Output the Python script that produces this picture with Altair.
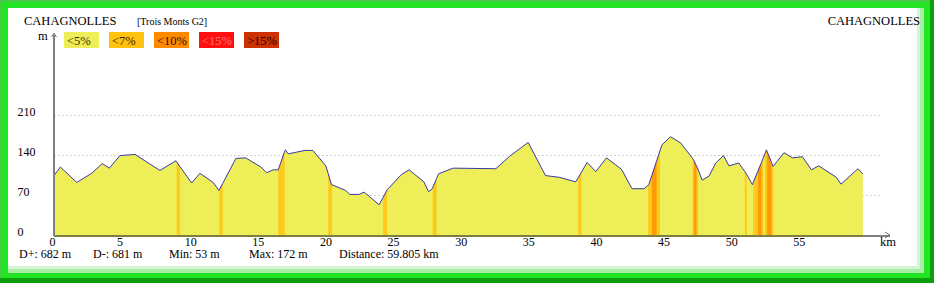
import altair as alt
import pandas as pd

# ---------------- data ----------------
km = [0, 0.47, 1.68, 2.79, 3.57, 4.09, 4.88, 5.99, 7.83, 9.02, 9.07, 9.31, 10.18, 10.79,
      11.77, 12.2, 12.22, 12.47, 13.45, 14.17, 15.3, 15.72, 16.21, 16.58, 17.05, 17.1,
      17.32, 18.55, 19.14, 20.1, 20.28, 20.52, 20.55, 21.56, 21.88, 22.54, 22.93, 24.04,
      24.34, 24.63, 25.7, 26.26, 27.35, 27.69, 27.94, 28.0, 28.29, 28.43, 29.51, 32.67,
      33.7, 35.06, 36.34, 37.35, 38.58, 38.76, 39.0, 39.42, 40.06, 40.85, 41.96, 42.74,
      43.63, 43.93, 43.98, 44.2, 44.55, 44.8, 44.96, 45.58, 46.34, 47.22, 47.32, 47.5,
      47.62, 47.92, 48.43, 48.93, 49.5, 49.91, 50.63, 51.08, 51.22, 51.64, 51.7, 52.05,
      52.31, 52.43, 52.56, 52.68, 52.73, 53.05, 53.17, 53.98, 54.6, 55.34, 56.0, 56.54,
      57.85, 58.19, 59.45, 59.805]
elev = [104, 119, 92, 108, 125, 117, 139, 141, 113, 130, 128, 120, 91, 108,
        92, 78, 79, 90, 134, 135, 119, 109, 114, 114, 146, 149,
        142, 148, 148, 121, 107, 88, 88, 78, 71, 71, 75, 53,
        66, 79, 106, 114, 93, 76, 80, 83, 99, 107, 117, 116,
        138, 162, 104, 101, 93, 100, 110, 127, 111, 135, 115, 81,
        81, 87, 88, 104, 129, 147, 158, 172, 161, 134, 130, 121,
        115, 96, 103, 126, 139, 121, 126, 111, 106, 88, 92, 112,
        127, 134, 142, 149, 146, 127, 120, 144, 135, 137, 114, 121,
        101, 89, 116, 107]
assert len(km) == len(elev)

# steep sections (slope classes) along the route
band_start = [9.07, 12.22, 16.58, 20.28, 24.34, 28.0, 38.76, 43.93, 47.22, 51.08, 51.7, 52.56,
              44.2, 47.32, 52.05, 52.73]
band_end = [9.31, 12.47, 17.05, 20.55, 24.63, 28.29, 39.0, 44.8, 47.62, 51.22, 52.43, 53.17,
            44.55, 47.5, 52.31, 53.05]
band_class = ["<7%"] * 12 + ["<10%"] * 4

classes = ["<5%", "<7%", "<10%", "<15%", ">15%"]
class_colors = ["#EEEE58", "#FFC30F", "#FF8A00", "#FF1010", "#CC3300"]
class_text_colors = ["#333300", "#402000", "#301000", "#FF7070", "#200000"]

x_ticks = [0, 5, 10, 15, 20, 25, 30, 35, 40, 45, 50, 55]
y_ticks = [0, 70, 140, 210]

title_left = "CAHAGNOLLES"
title_sub = "[Trois Monts G2]"
title_right = "CAHAGNOLLES"
stats = ["D+: 682 m", "D-: 681 m", "Min: 53 m", "Max: 172 m", "Distance: 59.805 km"]

# ---------------- tables ----------------
profile = pd.DataFrame({"km": km, "elev": elev})
rows = []
for i, (s, e, c) in enumerate(zip(band_start, band_end, band_class)):
    for k, h in zip(km, elev):
        if s - 1e-9 <= k <= e + 1e-9:
            rows.append({"band": i, "km": k, "elev": h, "cls": c})
bands = pd.DataFrame(rows)
extent = pd.DataFrame({"a": [km[0]], "b": [km[-1]]})
one = pd.DataFrame({"z": [0]})

# ---------------- layout ----------------
PL, PT = 54, 35          # plot origin in the page
W, H = 825, 200
FONT = "Liberation Serif, Times New Roman, serif"

xscale = alt.Scale(domain=[0, 61], nice=False, zero=False)
yscale = alt.Scale(domain=[0, 350], nice=False)
xaxis = alt.Axis(values=x_ticks, title=None, labelAlign="left", labelOffset=-5, labelPadding=1,
                 ticks=False, tickSize=0, domain=False, grid=False, labelFont=FONT,
                 labelFontSize=12, labelColor="black", labelFlush=False, labelOverlap=False)
yaxis = alt.Axis(values=y_ticks, title=None, labelAlign="left", labelPadding=37,
                 labelBaseline="alphabetic", ticks=False, tickSize=0, domain=False,
                 grid=True, gridDash=[1, 3], gridColor="#a0a0a0", gridWidth=1,
                 labelFont=FONT, labelFontSize=12, labelColor="black", labelOverlap=False)
X = alt.X("km:Q", scale=xscale, axis=xaxis)
Y = alt.Y("elev:Q", scale=yscale, axis=yaxis, stack=None)


def box(x0, y0, x1, y1, color):
    return alt.Chart(one).mark_rect(color=color, opacity=1).encode(
        x=alt.value(x0 - PL), x2=alt.value(x1 - PL),
        y=alt.value(y0 - PT), y2=alt.value(y1 - PT))


def txt(s, x, y, size=12, align="left", color="black"):
    return alt.Chart(pd.DataFrame({"t": [s]})).mark_text(
        align=align, baseline="alphabetic", font=FONT, fontSize=size, color=color
    ).encode(x=alt.value(x - PL), y=alt.value(y - PT), text="t:N")


layers = []
# green bevelled frame
layers += [
    box(917, 0, 924, 283, "#d2f5d2"),
    box(0, 266, 934, 273, "#d2f5d2"),
    box(920, 0, 924, 283, "#a8eca8"),
    box(0, 269, 934, 273, "#a8eca8"),
    box(0, 0, 934, 8, "#22e422"),
    box(0, 0, 8, 283, "#22e422"),
    box(924, 0, 934, 283, "#22e422"),
    box(0, 273, 934, 283, "#22e422"),
    box(930, 0, 934, 283, "#0d9e0d"),
    box(0, 278, 934, 283, "#0d9e0d"),
    box(0, 0, 2, 278, "#48c848"),
    box(0, 0, 930, 2, "#48c848"),
]

area = alt.Chart(profile).mark_area(color=class_colors[0], opacity=1, interpolate="linear").encode(x=X, y=Y)
band_lo = alt.Chart(bands).transform_filter(alt.datum.cls == "<7%").mark_area(
    opacity=0.85, interpolate="linear").encode(
    x=X, y=Y, detail="band:N",
    color=alt.Color("cls:N", scale=alt.Scale(domain=classes, range=class_colors), legend=None))
band_hi = alt.Chart(bands).transform_filter(alt.datum.cls == "<10%").mark_area(
    opacity=0.75, interpolate="linear").encode(
    x=X, y=Y, detail="band:N",
    color=alt.Color("cls:N", scale=alt.Scale(domain=classes, range=class_colors), legend=None))
line = alt.Chart(profile).mark_line(color="#3a3aa8", strokeWidth=1).encode(x=X, y=Y)
layers += [area, band_lo, band_hi, line]

# axis lines and arrow heads
layers += [
    alt.Chart(one).mark_rule(color="#808080", strokeWidth=2).encode(
        x=alt.value(0), x2=alt.value(836), y=alt.value(201)),
    alt.Chart(extent).mark_rule(color="#7c7c44", strokeWidth=2).encode(
        x=alt.X("a:Q", scale=xscale, axis=xaxis), x2="b:Q", y=alt.value(201)),
    alt.Chart(one).mark_rule(color="#808080", strokeWidth=2).encode(
        x=alt.value(0), y=alt.value(0), y2=alt.value(201)),
    alt.Chart(one).mark_point(shape="M-1,-0.6L0,0L-1,0.6", filled=False, color="#707070",
                              strokeWidth=1, size=100, opacity=1).encode(
        x=alt.value(836), y=alt.value(200)),
    alt.Chart(one).mark_point(shape="M-0.6,1L0,0L0.6,1", filled=False, color="#707070",
                              strokeWidth=1, size=64, opacity=1).encode(
        x=alt.value(0), y=alt.value(-2)),
]

# titles and labels
layers += [
    txt(title_left, 24, 25, 12.5),
    txt(title_sub, 137, 25, 10),
    txt(title_right, 920, 25, 12.5, align="right"),
    txt("m", 38, 40, 12.5),
    txt("km", 880, 246, 12.5),
]
# slope legend
for i, (c, col, tcol) in enumerate(zip(classes, class_colors, class_text_colors)):
    x0 = 64 + 45 * i
    layers.append(box(x0, 32, x0 + 35, 48, col))
    layers.append(txt(c, x0 + 3, 45, 12.5, color=tcol))
# statistics line
for s, x in zip(stats, [19, 93, 169, 249, 339]):
    layers.append(txt(s, x, 258, 12))

chart = alt.layer(*layers).properties(
    width=W, height=H,
    padding={"left": PL, "top": PT, "right": 934 - PL - W, "bottom": 283 - PT - H},
    autosize=alt.AutoSizeParams(type="none"),
    background="white",
).configure_view(stroke="transparent").configure_axis(labelFont=FONT).configure_text(font=FONT)

chart.save("out.html", embed_options={"renderer": "svg", "actions": False})
